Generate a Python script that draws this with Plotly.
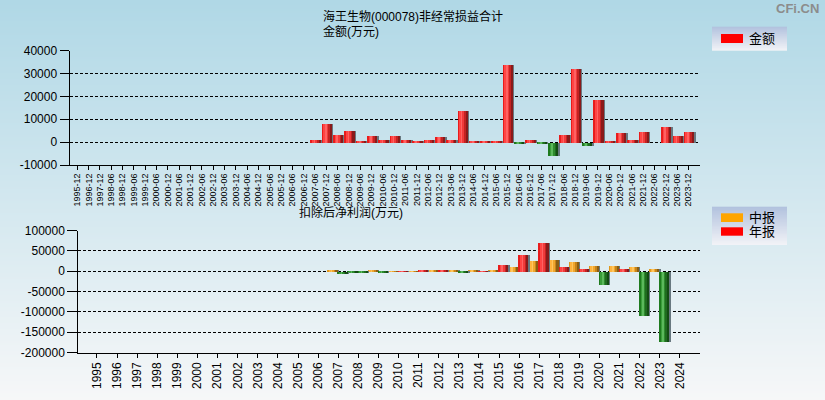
import base64
import struct
import zlib
import plotly.graph_objects as go

# ---------------- data ----------------
periods = [
    "1995-12", "1996-12", "1997-12", "1998-06", "1998-12", "1999-06", "1999-12",
    "2000-06", "2000-12", "2001-06", "2001-12", "2002-06", "2002-12", "2003-06",
    "2003-12", "2004-06", "2004-12", "2005-06", "2005-12", "2006-06", "2006-12",
    "2007-06", "2007-12", "2008-06", "2008-12", "2009-06", "2009-12", "2010-06",
    "2010-12", "2011-06", "2011-12", "2012-06", "2012-12", "2013-06", "2013-12",
    "2014-06", "2014-12", "2015-06", "2015-12", "2016-06", "2016-12", "2017-06",
    "2017-12", "2018-06", "2018-12", "2019-06", "2019-12", "2020-06", "2020-12",
    "2021-06", "2021-12", "2022-06", "2022-12", "2023-06", "2023-12",
]
amount = [None] * 21 + [
    1300, 8300, 3500, 5200, 400, 3000, 900, 3000, 1300, 400,
    1300, 2200, 900, 13900, 400, 300, 300, 33900, -500, 1300,
    -400, -6100, 3500, 32200, -1700, 18700, 400, 4300, 900, 4800,
    None, 7000, 3000, 4800,
]

years = [str(y) for y in range(1995, 2025)]
interim = [None] * 12 + [
    2400, -2000, 2000, 1000, 1500, 4800, 4800, 4800, 4800, 10500,
    25000, 29800, 22600, 12900, 12900, 10500, 5600, None,
]
annual = [None] * 12 + [
    -5500, -2000, -1500, 1500, 4800, 4800, -1500, 1500, 15300, 41900,
    71000, 10500, 5600, -33100, 5600, -108000, -173400, None,
]

top_ticks = [40000, 30000, 20000, 10000, 0, -10000]
top_ticktext = ["40000", "30000", "20000", "10000", "0", "-10000"]
bot_ticks = [100000, 50000, 0, -50000, -100000, -150000, -200000]
bot_ticktext = ["100000", "50000", "0", "-50000", "-100000", "-150000", "-200000"]

title_main = "海王生物(000078)非经常损益合计"
title_top = "金额(万元)"
title_bottom = "扣除后净利润(万元)"
legend_top = "金额"
legend_interim = "中报"
legend_annual = "年报"

# ---------------- helpers ----------------
W, H = 825, 400
FONT = "Liberation Sans, Arial, Noto Sans CJK SC, sans-serif"


def px(x):
    return x / W


def py(y):
    return 1 - y / H


def gradient_uri(top, bottom, h=200):
    rows = []
    for i in range(h):
        t = i / (h - 1)
        rows.append(tuple(int(round(a + (b - a) * t)) for a, b in zip(top, bottom)))
    raw = b"".join(b"\x00" + bytes(c) * 2 for c in rows)

    def chunk(tag, data):
        c = struct.pack(">I", len(data)) + tag + data
        return c + struct.pack(">I", zlib.crc32(tag + data) & 0xFFFFFFFF)

    png = (b"\x89PNG\r\n\x1a\n"
           + chunk(b"IHDR", struct.pack(">IIBBBBB", 2, h, 8, 2, 0, 0, 0))
           + chunk(b"IDAT", zlib.compress(raw))
           + chunk(b"IEND", b""))
    return "data:image/png;base64," + base64.b64encode(png).decode()


RED = ["#E81C1C", "#FF4444", "#FF6262", "#F03A3A", "#C42222", "#8A1A1A"]
GREEN = ["#1E7A1E", "#3A9E3A", "#5CB85C", "#2E8B2E", "#1F6B1F", "#134D13"]
ORANGE = ["#E0981E", "#FFB43E", "#FFC65E", "#F0A62E", "#C6841A", "#8C5E12"]
SHADOW = "#687880"


def add_bars(fig, x, y, pos, neg, start, width, shift, xa, ya):
    n = len(pos)
    fig.add_trace(go.Bar(x=x, y=y, offset=start + shift, width=width,
                         marker=dict(color=SHADOW, line=dict(width=0)),
                         showlegend=False, hoverinfo="skip",
                         xaxis=xa, yaxis=ya))
    sw = width / n
    for k in range(n):
        cols = [pos[k] if (v is not None and v >= 0) else neg[k] for v in y]
        fig.add_trace(go.Bar(x=x, y=y, offset=start + k * sw, width=sw * 1.02,
                             marker=dict(color=cols, line=dict(width=0)),
                             showlegend=False, hoverinfo="x+y",
                             xaxis=xa, yaxis=ya))


fig = go.Figure()

# top chart
add_bars(fig, periods, amount, RED, GREEN, -0.40, 0.86, 0.13, "x", "y")
# bottom chart
add_bars(fig, years, interim, ORANGE, GREEN, -0.5, 0.48, 0.07, "x2", "y2")
add_bars(fig, years, annual, RED, GREEN, 0.0, 0.48, 0.07, "x2", "y2")

axis_common = dict(showline=True, linecolor="black", linewidth=1,
                   ticks="outside", tickcolor="black", tickwidth=1,
                   color="black", zeroline=False, automargin=False)

fig.update_layout(
    width=W, height=H, autosize=False,
    margin=dict(l=0, r=0, t=0, b=0, pad=0),
    paper_bgcolor="#F5F7F8", plot_bgcolor="rgba(0,0,0,0)",
    barmode="overlay", bargap=0,
    font=dict(family=FONT, color="black", size=12),
    showlegend=False,
    xaxis=dict(type="category", categoryorder="array", categoryarray=periods,
               domain=[px(69.5), px(700)], range=[-0.69, 55.03], anchor="y",
               tickangle=-90, tickfont=dict(size=9), ticklen=4, showgrid=False,
               tickmode="array", tickvals=periods, **axis_common),
    yaxis=dict(domain=[py(165), py(50.6)], range=[-10000, 40000], anchor="x",
               tickmode="array", tickvals=top_ticks, ticktext=top_ticktext,
               tickfont=dict(size=12), ticklen=9,
               showgrid=True, gridcolor="black", gridwidth=1, griddash="3px,2px",
               **axis_common),
    xaxis2=dict(type="category", categoryorder="array", categoryarray=years,
                domain=[px(78.3), px(700)], range=[-0.93, 30.0], anchor="y2",
                tickangle=-90, tickfont=dict(size=12), ticklen=4, showgrid=False,
                tickmode="array", tickvals=years, **axis_common),
    yaxis2=dict(domain=[py(352.5), py(230.6)], range=[-200000, 100000], anchor="x2",
                tickmode="array", tickvals=bot_ticks, ticktext=bot_ticktext,
                tickfont=dict(size=12), ticklen=10,
                showgrid=True, gridcolor="black", gridwidth=1, griddash="3px,2px",
                **axis_common),
)

# backgrounds
images = [
    dict(source=gradient_uri((176, 216, 230), (246, 247, 248)),
         xref="paper", yref="paper", x=0, y=1, sizex=1, sizey=1,
         xanchor="left", yanchor="top", sizing="stretch", layer="below"),
    dict(source=gradient_uri((178, 194, 222), (242, 243, 247), 60),
         xref="paper", yref="paper", x=px(712), y=py(26.7), sizex=px(787) - px(712),
         sizey=(50.7 - 26.7) / H, xanchor="left", yanchor="top",
         sizing="stretch", layer="below"),
    dict(source=gradient_uri((178, 194, 222), (242, 243, 247), 60),
         xref="paper", yref="paper", x=px(712), y=py(206.7), sizex=px(787) - px(712),
         sizey=(245 - 206.7) / H, xanchor="left", yanchor="top",
         sizing="stretch", layer="below"),
]
fig.update_layout(images=images)

shapes = [
    dict(type="rect", xref="paper", yref="paper", x0=px(721), x1=px(743),
         y0=py(43), y1=py(34), fillcolor="#FF0000", line=dict(width=0)),
    dict(type="rect", xref="paper", yref="paper", x0=px(721), x1=px(743),
         y0=py(222), y1=py(213.3), fillcolor="#FFA500", line=dict(width=0)),
    dict(type="rect", xref="paper", yref="paper", x0=px(721), x1=px(743),
         y0=py(235.7), y1=py(227.3), fillcolor="#FF0000", line=dict(width=0)),
]
fig.update_layout(shapes=shapes)


def text(t, x, y, size=12, anchor="left", color="black", bold=False):
    fig.add_annotation(text=("<b>%s</b>" % t) if bold else t,
                       xref="paper", yref="paper", x=px(x), y=py(y),
                       xanchor=anchor, yanchor="middle", showarrow=False,
                       font=dict(size=size, color=color, family=FONT))


text(title_main, 321, 17)
text(title_top, 321, 31)
text(title_bottom, 297, 212)
text(legend_top, 747, 38.7, size=13)
text(legend_interim, 747, 217.5, size=13)
text(legend_annual, 747, 231.5, size=13)
text("CFi.CN", 821, 9, size=13, anchor="right", color="#8C8C8C", bold=True)

fig.write_html(
    "out.html",
    config={"displayModeBar": False},
    post_script="document.body.style.margin='0';document.body.style.overflow='hidden';",
)
